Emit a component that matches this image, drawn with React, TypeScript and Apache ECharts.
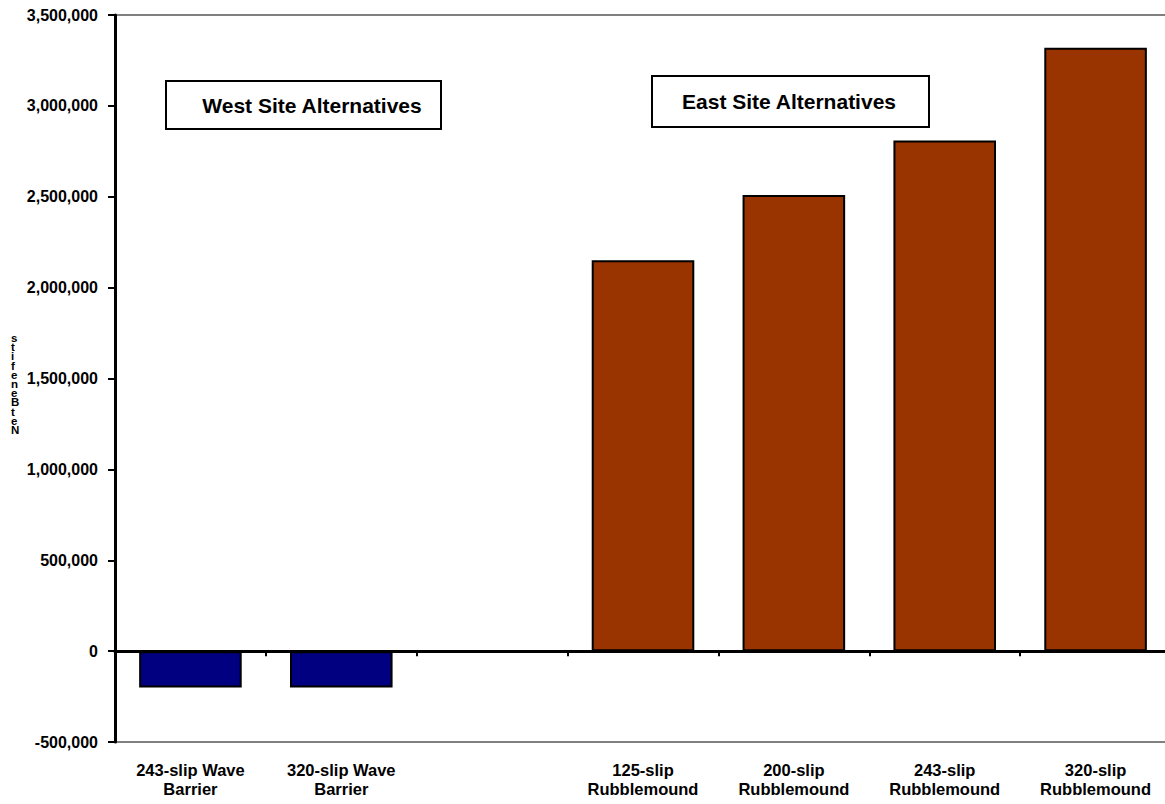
import React, { useEffect, useRef } from "react";
import * as echarts from "echarts";

const categories = [
  "243-slip Wave\nBarrier",
  "320-slip Wave\nBarrier",
  "",
  "125-slip\nRubblemound",
  "200-slip\nRubblemound",
  "243-slip\nRubblemound",
  "320-slip\nRubblemound",
];
const netBenefits: (number | null)[] = [-200000, -200000, null, 2150000, 2510000, 2810000, 3320000];
const sites = ["West", "West", "", "East", "East", "East", "East"];
const siteColors: Record<string, string> = { West: "#000080", East: "#993300", "": "#000000" };
const yTicks = { min: -500000, max: 3500000, interval: 500000 };
const boxTitles = ["West Site Alternatives", "East Site Alternatives"];
const yAxisTitle = "Net Benefits";

const FONT = "Arial, 'Liberation Sans', Helvetica, sans-serif";

export default function App() {
  const ref = useRef<HTMLDivElement>(null);
  useEffect(() => {
    if (!ref.current) return;
    const chart = echarts.init(ref.current, undefined, { renderer: "svg" });
    const stacked = yAxisTitle.replace(/ /g, "").split("").reverse().join("\n");
    chart.setOption({
      animation: false,
      backgroundColor: "#ffffff",
      grid: {
        left: 115,
        top: 15,
        width: 1056,
        height: 727,
        show: false,
        outerBoundsMode: "none",
        containLabel: false,
      },
      xAxis: [
        {
          type: "category",
          position: "bottom",
          data: categories,
          axisLine: { show: true, onZero: false, lineStyle: { color: "#808080", width: 2 } },
          axisTick: { show: false },
          axisLabel: {
            interval: 0,
            color: "#000",
            fontWeight: "bold",
            fontSize: 16.5,
            lineHeight: 19,
            margin: 18,
            fontFamily: FONT,
          },
        },
        {
          type: "category",
          position: "top",
          data: categories,
          axisLine: { show: true, onZero: true, lineStyle: { color: "#000", width: 3 } },
          axisTick: { show: true, inside: true, length: 5, lineStyle: { color: "#000", width: 2 } },
          axisLabel: { show: false },
        },
        {
          type: "category",
          position: "top",
          data: categories,
          axisLine: { show: true, onZero: false, lineStyle: { color: "#808080", width: 2 } },
          axisTick: { show: false },
          axisLabel: { show: false },
        },
      ],
      yAxis: {
        type: "value",
        min: yTicks.min,
        max: yTicks.max,
        interval: yTicks.interval,
        axisLine: { show: true, onZero: false, lineStyle: { color: "#000", width: 3 } },
        axisTick: { show: true, length: 7, lineStyle: { color: "#000", width: 2 } },
        splitLine: { show: false },
        axisLabel: {
          color: "#000",
          fontWeight: "bold",
          fontSize: 16,
          margin: 17,
          fontFamily: FONT,
          formatter: (v: number) => v.toLocaleString("en-US"),
        },
        z: 5,
      },
      series: [
        {
          type: "bar",
          xAxisIndex: 0,
          barWidth: "68%",
          data: netBenefits.map((v, i) => ({
            value: v,
            itemStyle: { color: siteColors[sites[i]] },
          })),
          itemStyle: { borderColor: "#000", borderWidth: 2 },
          z: 1,
        },
      ],
      graphic: [
        {
          type: "text",
          left: 11,
          top: 332,
          style: {
            text: stacked,
            fontSize: 11.5,
            fontWeight: "bold",
            lineHeight: 9.2,
            fill: "#000",
            fontFamily: FONT,
            align: "left",
          },
        },
        {
          type: "group",
          left: 165,
          top: 80,
          children: [
            {
              type: "rect",
              shape: { x: 0, y: 0, width: 275, height: 48 },
              style: { fill: "#fff", stroke: "#000", lineWidth: 2 },
            },
            {
              type: "text",
              x: 146,
              y: 24,
              style: {
                text: boxTitles[0],
                fontSize: 21,
                fontWeight: "bold",
                fill: "#000",
                fontFamily: FONT,
                align: "center",
                verticalAlign: "middle",
              },
            },
          ],
        },
        {
          type: "group",
          left: 651,
          top: 75,
          children: [
            {
              type: "rect",
              shape: { x: 0, y: 0, width: 277, height: 51 },
              style: { fill: "#fff", stroke: "#000", lineWidth: 2 },
            },
            {
              type: "text",
              x: 137,
              y: 25,
              style: {
                text: boxTitles[1],
                fontSize: 21,
                fontWeight: "bold",
                fill: "#000",
                fontFamily: FONT,
                align: "center",
                verticalAlign: "middle",
              },
            },
          ],
        },
      ],
    });
    return () => chart.dispose();
  }, []);
  return (
    <div
      ref={ref}
      style={{ position: "fixed", left: 0, top: 0, width: 1165, height: 804, overflow: "hidden" }}
    />
  );
}
